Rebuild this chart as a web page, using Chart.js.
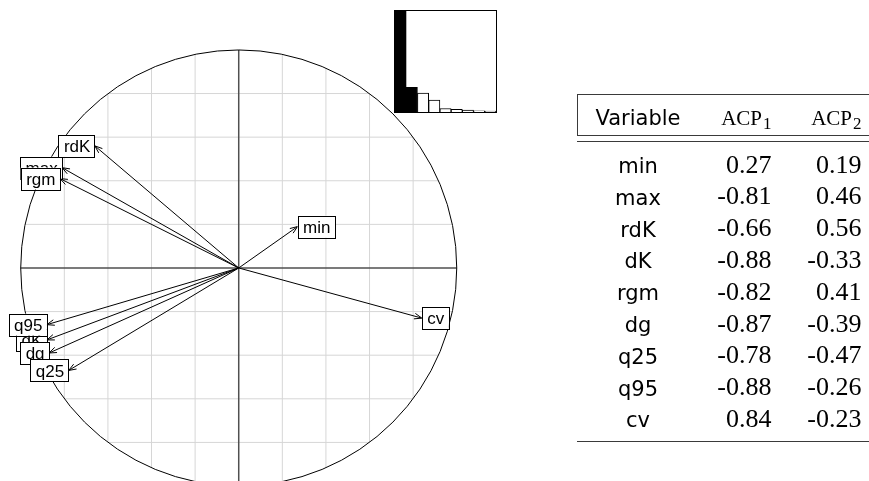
<!DOCTYPE html>
<html><head><meta charset="utf-8">
<script src="https://cdn.jsdelivr.net/npm/chart.js@4.4.1/dist/chart.umd.min.js"></script>
<style>
html,body{margin:0;padding:0;background:#fff;}
#wrap{position:relative;width:869px;height:481px;overflow:hidden;background:#fff;}
#main{position:absolute;left:0;top:0;}
#inset{position:absolute;left:394px;top:10px;width:101px;height:101px;border:1px solid #000;background:#fff;}
#scree{display:block;}
#tbl{position:absolute;left:0;top:0;width:869px;height:481px;pointer-events:none;}
.t{position:absolute;white-space:nowrap;line-height:0;height:0;color:#000;}
.rule{position:absolute;background:#3a3a3a;}
</style></head><body>
<div id="wrap">
<canvas id="main" width="869" height="481"></canvas>
<div id="inset"><canvas id="scree" width="101" height="101"></canvas></div>
<div id="tbl"></div>
</div>
<script>
// ---- data ----
const variables = ['min','max','rdK','dK','rgm','dg','q25','q95','cv'];
const acp1 = [0.27,-0.81,-0.66,-0.88,-0.82,-0.87,-0.78,-0.88,0.84];
const acp2 = [0.19,0.46,0.56,-0.33,0.41,-0.39,-0.47,-0.26,-0.23];
const eigenvalues = [5.46,1.33,1.02,0.65,0.19,0.14,0.10,0.06,0.05];
const axisNumbers = ['1','2','3','4','5','6','7','8','9'];
const gridTicks = [-0.8,-0.6,-0.4,-0.2,0.2,0.4,0.6,0.8];
const headerLabels = ['Variable','ACP','ACP'];
const headerSubs = ['','1','2'];

// ---- correlation circle ----
const corcircle = {
  id:'corcircle',
  beforeDatasetsDraw(chart){
    const {ctx, scales:{x,y}} = chart;
    const cx = x.getPixelForValue(0), cy = y.getPixelForValue(0);
    const r = x.getPixelForValue(1) - cx;
    ctx.save();
    ctx.strokeStyle = '#d6d6d6'; ctx.lineWidth = 1;
    gridTicks.forEach(t => {
      const h = Math.sqrt(1 - t*t);
      ctx.beginPath();
      ctx.moveTo(x.getPixelForValue(t), y.getPixelForValue(-h));
      ctx.lineTo(x.getPixelForValue(t), y.getPixelForValue(h));
      ctx.moveTo(x.getPixelForValue(-h), y.getPixelForValue(t));
      ctx.lineTo(x.getPixelForValue(h), y.getPixelForValue(t));
      ctx.stroke();
    });
    ctx.strokeStyle = '#505050'; ctx.lineWidth = 1.5;
    ctx.beginPath();
    ctx.moveTo(x.getPixelForValue(-1), cy); ctx.lineTo(x.getPixelForValue(1), cy);
    ctx.moveTo(cx, y.getPixelForValue(1)); ctx.lineTo(cx, y.getPixelForValue(-1));
    ctx.stroke();
    ctx.strokeStyle = '#000'; ctx.lineWidth = 1;
    ctx.beginPath(); ctx.arc(cx, cy, r, 0, Math.PI*2); ctx.stroke();
    ctx.restore();
  },
  afterDatasetsDraw(chart){
    const {ctx, scales:{x,y}} = chart;
    const cx = x.getPixelForValue(0), cy = y.getPixelForValue(0);
    ctx.save();
    // arrow heads
    ctx.strokeStyle = '#000'; ctx.lineWidth = 1;
    chart.data.datasets.forEach((ds, i) => {
      const pt = chart.getDatasetMeta(i).data[1];
      const th = Math.atan2(pt.y - cy, pt.x - cx);
      const L = 8, phi = 0.36;
      ctx.beginPath();
      ctx.moveTo(pt.x - L*Math.cos(th - phi), pt.y - L*Math.sin(th - phi));
      ctx.lineTo(pt.x, pt.y);
      ctx.lineTo(pt.x - L*Math.cos(th + phi), pt.y - L*Math.sin(th + phi));
      ctx.stroke();
    });
    // labels
    ctx.font = '17px "Liberation Sans", Arial, sans-serif';
    ctx.textAlign = 'center'; ctx.textBaseline = 'middle';
    chart.data.datasets.forEach((ds, i) => {
      const pt = chart.getDatasetMeta(i).data[1];
      const w = ctx.measureText(ds.label).width + 10, h = 22;
      const left = acp1[i] >= 0 ? pt.x : pt.x - w;
      const top = pt.y - h/2;
      ctx.fillStyle = '#fff';
      ctx.fillRect(left, top, w, h);
      ctx.strokeStyle = '#000';
      ctx.strokeRect(Math.round(left)+0.5, Math.round(top)+0.5, Math.round(w), h);
      ctx.fillStyle = '#000';
      ctx.fillText(ds.label, left + w/2 + 0.5, pt.y + 1.5);
    });
    ctx.restore();
  }
};

new Chart(document.getElementById('main'), {
  type: 'scatter',
  data: {
    datasets: variables.map((v, i) => ({
      label: v,
      data: [{x:0, y:0}, {x:acp1[i], y:acp2[i]}],
      showLine: true, borderColor:'#000', borderWidth:1,
      pointRadius:0, pointHoverRadius:0, fill:false
    }))
  },
  options: {
    responsive:false, animation:false, devicePixelRatio:1,
    layout:{padding:0},
    plugins:{legend:{display:false}, tooltip:{enabled:false}},
    scales:{
      x:{type:'linear', display:false, min:-1.095, max:2.891},
      y:{type:'linear', display:false, min:-0.977, max:1.229}
    }
  },
  plugins:[corcircle]
});

// ---- scree inset ----
new Chart(document.getElementById('scree'), {
  type:'bar',
  data:{
    labels: axisNumbers,
    datasets:[{
      data: eigenvalues,
      backgroundColor: eigenvalues.map((_, i) => i < 2 ? '#000' : '#fff'),
      borderColor:'#000', borderWidth:1,
      categoryPercentage:1, barPercentage:1
    }]
  },
  options:{
    responsive:false, animation:false, devicePixelRatio:1,
    layout:{padding:0},
    plugins:{legend:{display:false}, tooltip:{enabled:false}},
    scales:{
      x:{display:false, offset:true},
      y:{display:false, min:0, max:eigenvalues[0]}
    }
  }
});

// ---- table ----
const tbl = document.getElementById('tbl');
const FONTS = {
  sans:{family:'"DejaVu Sans", sans-serif', size:21, a:0.928, d:0.236},
  serif:{family:'"Liberation Serif", serif', size:26, a:0.891, d:0.216},
  hdr:{family:'"Liberation Serif", serif', size:21, a:0.891, d:0.216}
};
function place(html, f, baseline, pos, extra){
  const el = document.createElement('div');
  el.className = 't';
  el.innerHTML = html;
  el.style.fontFamily = f.family;
  el.style.fontSize = f.size + 'px';
  el.style.top = (baseline - (f.a - f.d)/2*f.size) + 'px';
  if (pos.center !== undefined){ el.style.left = pos.center + 'px'; el.style.transform = 'translateX(-50%)'; }
  if (pos.right !== undefined){ el.style.right = (869 - pos.right) + 'px'; }
  if (pos.left !== undefined){ el.style.left = pos.left + 'px'; }
  if (extra) Object.assign(el.style, extra);
  tbl.appendChild(el);
}
function rule(x, y, w, h){
  const el = document.createElement('div');
  el.className = 'rule';
  Object.assign(el.style, {left:x+'px', top:y+'px', width:w+'px', height:h+'px'});
  tbl.appendChild(el);
}
const colCenter = 638, col1Right = 771.5, col2Right = 861.5;
const headBase = 125, rowBase0 = 173.3, rowStep = 31.8;
place(headerLabels[0], FONTS.sans, headBase, {center:colCenter});
[col1Right, col2Right].forEach((r, k) => {
  place(headerLabels[k+1] + '<span style="font-size:17px;position:relative;top:4px;margin-left:1px">' + headerSubs[k+1] + '</span>',
        FONTS.hdr, headBase, {right:r});
});
const fmt = v => v.toFixed(2);
variables.forEach((v, i) => {
  const b = rowBase0 + rowStep*i;
  place(v, FONTS.sans, b, {center:colCenter});
  place(fmt(acp1[i]), FONTS.serif, b, {right:col1Right});
  place(fmt(acp2[i]), FONTS.serif, b, {right:col2Right});
});
rule(577, 93.5, 292, 1.3);
rule(577, 93.5, 1.3, 42.5);
rule(577, 135, 292, 1.3);
rule(577, 141, 292, 1.3);
rule(577, 441, 292, 1.3);
</script>
</body></html>
